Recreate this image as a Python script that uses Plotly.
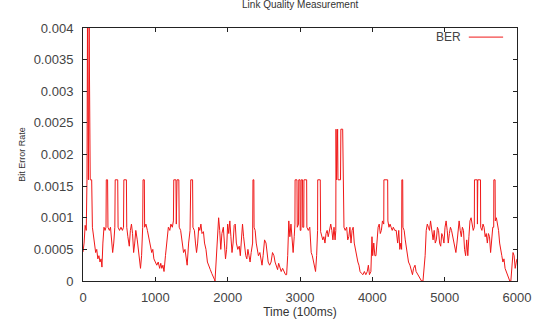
import plotly.graph_objects as go

# Time (100ms) samples
time_pts = [
    0, 15, 30, 45, 55, 62, 75, 85, 100, 120, 130, 140, 160, 175, 190, 205, 220, 235, 250, 262,
    275, 290, 305, 318, 322, 340, 345, 365, 380, 395, 410, 425, 440, 445, 480, 485, 505, 525, 545, 560,
    565, 600, 605, 620, 640, 655, 670, 685, 700, 715, 730, 750, 765, 780, 795, 810, 825, 830, 848, 852,
    870,
    890, 910, 930, 950, 965, 980, 1000, 1020, 1040, 1060, 1075, 1090, 1105, 1120, 1140, 1160, 1180, 1200,
    1215, 1235, 1250, 1255, 1285, 1290, 1300, 1325, 1330, 1350, 1370, 1390, 1410, 1425, 1440, 1460, 1480,
    1490, 1515, 1520, 1540, 1555, 1570, 1585, 1600, 1615, 1630, 1645, 1665, 1680, 1700, 1720, 1740,
    1760, 1780, 1800, 1815, 1825, 1840, 1860, 1875, 1890, 1905, 1920, 1940, 1955, 1970, 1985, 2000, 2015,
    2030, 2045, 2060, 2075, 2090, 2105, 2120, 2140, 2160, 2175, 2190, 2205, 2220, 2235, 2250, 2265, 2280,
    2295, 2310, 2325, 2345, 2350, 2362, 2365, 2380, 2395, 2410, 2425, 2445, 2460, 2475, 2490, 2510, 2530,
    2545, 2560, 2580, 2600, 2620, 2640,
    2655, 2670, 2690, 2705, 2720, 2740, 2760, 2780, 2800, 2815, 2830, 2845, 2860, 2875, 2890, 2905, 2920,
    2930, 2932, 2958, 2962, 2980, 2983, 3000, 3003, 3013, 3016, 3035, 3038, 3052, 3055, 3092, 3095, 3115,
    3135, 3155, 3170, 3185, 3200, 3215, 3230, 3243, 3245, 3280, 3285, 3300, 3315, 3330, 3345, 3360, 3375,
    3390, 3410, 3425, 3440, 3455, 3470, 3485, 3495,
    3498, 3505, 3520, 3525, 3560, 3565, 3590, 3595, 3605, 3608, 3625, 3645, 3660, 3675, 3690, 3705, 3720,
    3735, 3750, 3765, 3780, 3800, 3815, 3830, 3850, 3870, 3890, 3910, 3930, 3945, 3960, 3980, 3995, 4005,
    4020, 4035, 4050, 4065, 4080, 4095, 4110, 4125, 4140, 4158, 4160, 4212, 4215, 4230, 4245, 4260, 4275,
    4290, 4310, 4330, 4350, 4365, 4380, 4395, 4405, 4408, 4420, 4423,
    4440, 4455, 4470, 4485, 4500, 4520, 4540, 4555, 4570, 4590, 4605, 4620, 4640, 4660, 4680, 4700, 4715,
    4730, 4745, 4760, 4775, 4790, 4805, 4820, 4840, 4855, 4870, 4885, 4900, 4915, 4930, 4945, 4960, 4975,
    4990, 5005, 5020, 5035, 5050, 5065, 5080, 5095, 5110, 5125, 5140, 5155, 5170, 5185, 5200, 5215, 5230,
    5245, 5260, 5275, 5290,
    5305, 5320, 5335, 5350, 5365, 5380, 5395, 5410, 5412, 5450, 5453, 5458, 5495, 5498, 5515, 5530, 5545,
    5560, 5575, 5590, 5605, 5620, 5635, 5650, 5665, 5678, 5680, 5697, 5700, 5715, 5730, 5745, 5760, 5775,
    5790, 5805, 5820, 5835, 5850, 5865, 5880, 5900, 5915, 5930, 5945, 5960, 5975, 5990, 6000,
]

ber = [
    0.00046, 0.0006, 0.00088, 0.0008, 0.0016, 0.004, 0.0016, 0.004, 0.0016, 0.0016, 0.00085, 0.00075,
    0.0006, 0.00045, 0.0005, 0.00035, 0.0004, 0.0003, 0.00035, 0.00022,
    0.0006, 0.00085, 0.0008, 0.00085, 0.0016, 0.0016, 0.00085, 0.0008, 0.00085, 0.0006, 0.00045, 0.0006,
    0.00085, 0.0016, 0.0016, 0.00085, 0.0008, 0.00085, 0.0008, 0.00085,
    0.0016, 0.0016, 0.00085, 0.0007, 0.00055, 0.0008, 0.0009, 0.00075, 0.00045, 0.0006, 0.0008, 0.00065,
    0.0005, 0.0003, 0.0002, 0.0004, 0.00085, 0.0016, 0.0016, 0.00085,
    0.0009,
    0.0008, 0.0007, 0.00055, 0.00045, 0.0005, 0.00035, 0.0003, 0.00025, 0.0003, 0.0002, 0.00028, 0.0002,
    0.00025, 0.00015, 0.0004, 0.0007, 0.00085, 0.0008,
    0.0009, 0.00085, 0.00095, 0.0016, 0.0016, 0.0009, 0.0016, 0.0016, 0.00085, 0.0008, 0.0006, 0.00045,
    0.0005, 0.00035, 0.00025, 0.0006, 0.0008,
    0.0016, 0.0016, 0.00085, 0.0008, 0.0006, 0.00045, 0.0006, 0.00085, 0.0008, 0.0009, 0.00075, 0.00078,
    0.0006, 0.0005, 0.0003, 0.00025,
    0.00018, 0.00012, 0.00008, 0.00003, 0.0, 0.00035, 0.0007, 0.001, 0.0008, 0.0005, 0.00075, 0.00085,
    0.0006, 0.00035, 0.0005, 0.0009, 0.00075,
    0.00095, 0.0007, 0.00045, 0.0006, 0.00088, 0.0009, 0.0006, 0.0005, 0.00055, 0.0004, 0.00075, 0.0009,
    0.0007, 0.0005, 0.0004, 0.00035, 0.0005,
    0.0004, 0.0003, 0.00045, 0.0006, 0.0016, 0.0016, 0.00085, 0.0008, 0.0006, 0.0005, 0.0004, 0.00045,
    0.0003, 0.00025, 0.0004, 0.00065, 0.0006,
    0.00045, 0.0003, 0.00025, 0.0003, 0.00045, 0.0004,
    0.0003, 0.00025, 0.00018, 0.00028, 0.0002, 0.00015, 0.0002, 0.00015, 0.0001, 0.0001, 0.0004, 0.00095,
    0.0007, 0.0009, 0.0006, 0.00045, 0.0007,
    0.0009, 0.0016, 0.0016, 0.00085, 0.0009, 0.0016, 0.0016, 0.0008, 0.0008, 0.0016, 0.0016, 0.00085,
    0.00085, 0.0016, 0.0016, 0.00085, 0.0008,
    0.00085, 0.00045, 0.0004, 0.0003, 0.00022, 0.00015, 0.0004, 0.0008, 0.0016, 0.0016, 0.00078, 0.0007,
    0.00065, 0.0007, 0.0006, 0.00075, 0.0008,
    0.0007, 0.0008, 0.0009, 0.0008, 0.00065, 0.00085, 0.00065, 0.0008,
    0.0024, 0.0016, 0.0024, 0.0016, 0.0016, 0.0024, 0.0024, 0.0016, 0.0016, 0.00085, 0.0008, 0.00085,
    0.00065, 0.0007, 0.00085, 0.0006, 0.0008,
    0.00085, 0.0006, 0.0005, 0.0004, 0.0003, 0.00025, 0.00015, 0.00012, 0.0001, 0.00015, 0.0001, 0.00015,
    0.00025, 0.0001, 0.00015, 0.0007, 0.0004,
    0.0006, 0.0004, 0.0004, 0.0007, 0.00085, 0.0009, 0.00075, 0.0008, 0.00095, 0.0009, 0.0016, 0.0016,
    0.00095, 0.00085, 0.0009, 0.00085, 0.0008,
    0.00085, 0.0008, 0.0008, 0.0006, 0.0008, 0.0005, 0.0006, 0.0005, 0.0016, 0.0016, 0.00085,
    0.0008, 0.00065, 0.0005, 0.0004, 0.0003, 0.00025, 0.00015, 0.0001, 0.0002, 0.00025, 0.00015, 0.00012,
    0.0001, 0.00005, 0.0, 0.0, 0.00015,
    0.0004, 0.0008, 0.0009, 0.00085, 0.0008, 0.00095, 0.0008, 0.00065, 0.0008, 0.0006, 0.00065, 0.00085,
    0.0008, 0.0006, 0.00055, 0.00075, 0.0007,
    0.0006, 0.00085, 0.00095, 0.0008, 0.0006, 0.00075, 0.00085, 0.0008, 0.0007, 0.0006, 0.0005, 0.00045,
    0.0006, 0.0008, 0.00095, 0.0008, 0.0007,
    0.00085, 0.0008, 0.0005, 0.0004,
    0.00065, 0.0004, 0.0007, 0.00095, 0.001, 0.00085, 0.0008, 0.00085, 0.0016, 0.0016, 0.0009, 0.0016,
    0.0016, 0.00085, 0.0008, 0.0009, 0.00085,
    0.0007, 0.00075, 0.0006, 0.00075, 0.0007, 0.00045, 0.0007, 0.00085, 0.00085, 0.0016, 0.0016, 0.00095,
    0.001, 0.0009, 0.0008, 0.0006, 0.00045,
    0.0004, 0.0003, 0.00035, 0.0002, 0.00015, 0.0001, 0.00005, 0.0, 0.0, 0.0002, 0.00045, 0.0004, 0.0002,
    0.0003, 0.00035,
]

x_ticks = [0, 1000, 2000, 3000, 4000, 5000, 6000]
y_ticks = [0, 0.0005, 0.001, 0.0015, 0.002, 0.0025, 0.003, 0.0035, 0.004]
y_tick_labels = ["0", "0.0005", "0.001", "0.0015", "0.002", "0.0025", "0.003", "0.0035", "0.004"]

FONT = "Liberation Sans, Arial, sans-serif"
RED = "#f01818"

fig = go.Figure()
fig.add_trace(go.Scatter(
    x=time_pts, y=ber, mode="lines", name="BER",
    line=dict(color=RED, width=1), showlegend=False,
))

axis_common = dict(
    showline=True, linecolor="#222", linewidth=1, mirror="ticks",
    ticks="inside", ticklen=4, tickcolor="#222", showgrid=False, zeroline=False,
    tickfont=dict(family=FONT, size=13, color="#444"), automargin=False,
)

fig.update_layout(
    width=536, height=327,
    margin=dict(l=83, r=19, t=28, b=46, autoexpand=False),
    paper_bgcolor="white", plot_bgcolor="white",
    title=dict(text="Link Quality Measurement", x=0.56, xanchor="center",
               y=0.998, yanchor="top", yref="container", automargin=False,
               font=dict(family=FONT, size=10, color="#333")),
    xaxis=dict(range=[0, 6000], tickvals=x_ticks, ticklabelstandoff=4,
               title=dict(text="Time (100ms)", font=dict(family=FONT, size=12, color="#333"),
                          standoff=4),
               **axis_common),
    yaxis=dict(range=[0, 0.004], tickvals=y_ticks, ticktext=y_tick_labels, ticklabelstandoff=6,
               title=dict(text="Bit Error Rate", font=dict(family=FONT, size=9, color="#333"),
                          standoff=6),
               **axis_common),
    annotations=[dict(text="BER", xref="paper", yref="paper", x=0.876, y=0.964,
                      xanchor="right", yanchor="middle", showarrow=False,
                      font=dict(family=FONT, size=12, color="#444"))],
    shapes=[dict(type="line", xref="paper", yref="paper", x0=0.889, x1=0.968,
                 y0=0.964, y1=0.964, line=dict(color=RED, width=1))],
)

fig.write_html(
    "out.html",
    config={"displayModeBar": False},
    post_script="document.body.style.margin='0';document.body.style.overflow='hidden';",
)
